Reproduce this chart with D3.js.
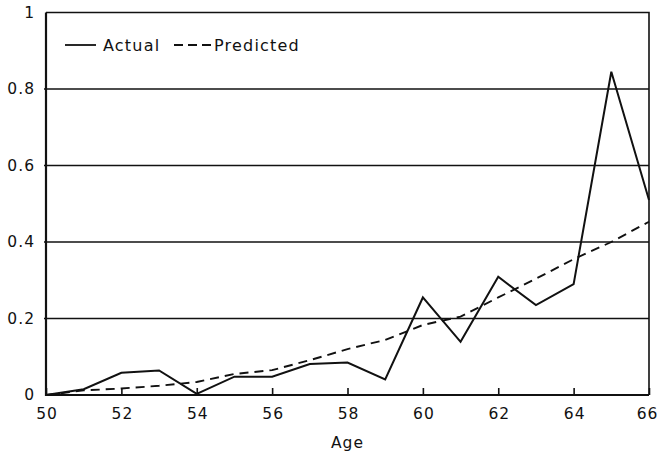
<!DOCTYPE html>
<html>
<head>
<meta charset="utf-8">
<script src="https://cdn.jsdelivr.net/npm/d3@7"></script>
<style>
	html, body { margin: 0; padding: 0; background: #fff; }
	svg { display: block; font-family: "DejaVu Sans", sans-serif; }
	.axis text { fill: #111; font-size: 15.5px; letter-spacing: 1px; }
</style>
</head>
<body>
<svg id="chart" width="658" height="455"></svg>
<script>
// values
var ages = [50, 51, 52, 53, 54, 55, 56, 57, 58, 59, 60, 61, 62, 63, 64, 65, 66];
var actual = [0, 0.015, 0.058, 0.064, 0.003, 0.048, 0.048, 0.081, 0.085, 0.041, 0.255, 0.139, 0.309, 0.235, 0.29, 0.845, 0.51];
var predicted = [0, 0.012, 0.017, 0.024, 0.034, 0.055, 0.065, 0.091, 0.12, 0.144, 0.183, 0.205, 0.255, 0.304, 0.355, 0.40, 0.453];
var xTicks = [50, 52, 54, 56, 58, 60, 62, 64, 66];
var yTicks = [0, 0.2, 0.4, 0.6, 0.8, 1];
var yTickLabels = ['0', '0.2', '0.4', '0.6', '0.8', '1'];
var legendLabels = ['Actual', 'Predicted'];

(function(){
	var svg = d3.select('#chart');
	var plotLeft = 46, plotRight = 649, plotTop = 12.5, plotBottom = 395;

	var x = d3.scaleLinear().domain([50, 66]).range([plotLeft, plotRight]);
	var y = d3.scaleLinear().domain([0, 1]).range([plotBottom, plotTop]);

	// horizontal grid lines
	svg.append('g')
			.selectAll('line')
			.data(yTicks.filter(function(d){ return d > 0 && d < 1; }))
			.enter().append('line')
			.attr('x1', plotLeft - 2)
			.attr('x2', plotRight)
			.attr('y1', function(d){ return y(d); })
			.attr('y2', function(d){ return y(d); })
			.attr('stroke', '#111')
			.attr('stroke-width', 1.3);

	// x axis, ticks pointing up into the plot
	var xAxis = svg.append('g')
			.attr('class', 'axis')
			.attr('transform', 'translate(0,' + plotBottom + ')')
			.call(d3.axisBottom(x).tickValues(xTicks).tickSize(-7).tickPadding(13).tickFormat(d3.format('d')));
	xAxis.attr('font-family', null);
	xAxis.select('.domain').remove();
	xAxis.selectAll('line').attr('stroke', '#111').attr('stroke-width', 1.6);
	xAxis.selectAll('text').attr('dx', function(d){ return d == 66 ? '-2px' : '0.5px'; });

	// y axis labels only
	var yAxis = svg.append('g')
			.attr('class', 'axis')
			.attr('transform', 'translate(' + plotLeft + ',0)')
			.call(d3.axisLeft(y).tickValues(yTicks).tickSize(0).tickPadding(11)
				.tickFormat(function(d, i){ return yTickLabels[i]; }));
	yAxis.attr('font-family', null);
	yAxis.select('.domain').remove();

	// frame
	svg.append('path')
			.attr('d', 'M' + plotLeft + ',' + plotTop + 'H' + plotRight + 'V' + plotBottom)
			.attr('fill', 'none')
			.attr('stroke', '#111')
			.attr('stroke-width', 1.6);
	svg.append('path')
			.attr('d', 'M' + plotLeft + ',' + plotTop + 'V' + plotBottom + 'H' + plotRight)
			.attr('fill', 'none')
			.attr('stroke', '#111')
			.attr('stroke-width', 2.2);

	var line = d3.line()
			.x(function(d, i){ return x(ages[i]); })
			.y(function(d){ return y(d); });

	svg.append('path')
			.datum(predicted)
			.attr('d', line)
			.attr('fill', 'none')
			.attr('stroke', '#111')
			.attr('stroke-width', 1.9)
			.attr('stroke-dasharray', '9,6');

	svg.append('path')
			.datum(actual)
			.attr('d', line)
			.attr('fill', 'none')
			.attr('stroke', '#111')
			.attr('stroke-width', 2);

	// axis title
	svg.append('text')
			.attr('x', (plotLeft + plotRight) / 2)
			.attr('y', 448)
			.attr('text-anchor', 'middle')
			.attr('font-size', 15.5)
			.attr('letter-spacing', 1)
			.attr('fill', '#111')
			.text('Age');

	// legend
	var legend = svg.append('g').attr('transform', 'translate(0,45)');
	legend.append('line')
			.attr('x1', 65).attr('x2', 96)
			.attr('stroke', '#111').attr('stroke-width', 1.8);
	legend.append('text')
			.attr('x', 103).attr('y', 6)
			.attr('font-size', 16).attr('letter-spacing', 1.2).attr('fill', '#111')
			.text(legendLabels[0]);
	legend.append('line')
			.attr('x1', 174).attr('x2', 212)
			.attr('stroke', '#111').attr('stroke-width', 1.8)
			.attr('stroke-dasharray', '9,5');
	legend.append('text')
			.attr('x', 214).attr('y', 6)
			.attr('font-size', 16).attr('letter-spacing', 1.2).attr('fill', '#111')
			.text(legendLabels[1]);
})();
</script>
</body>
</html>
